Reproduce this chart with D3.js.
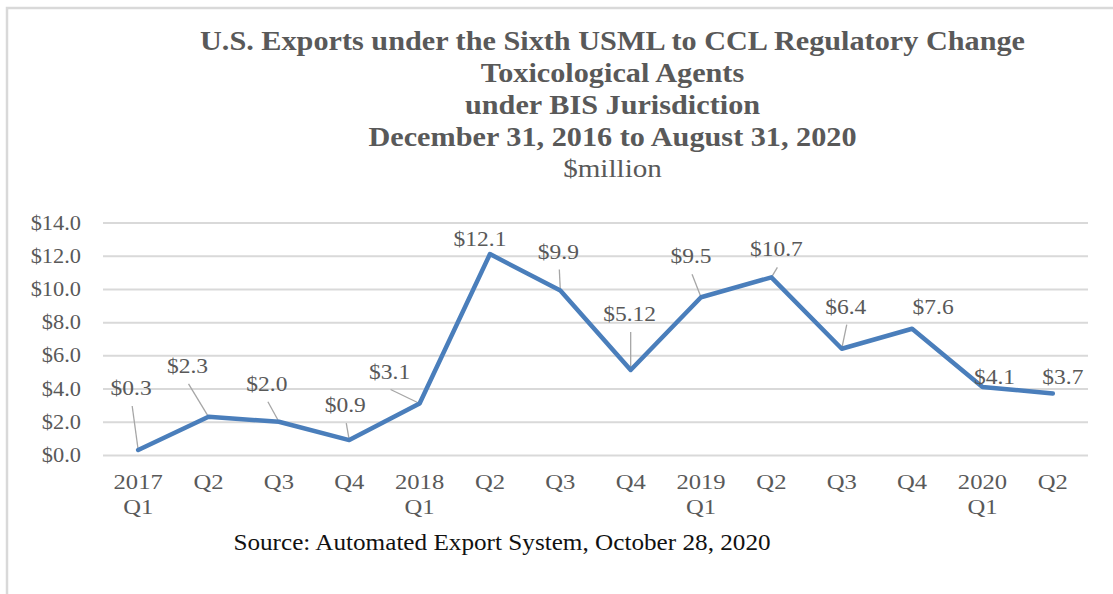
<!DOCTYPE html>
<html>
<head>
<meta charset="utf-8">
<script src="https://cdn.jsdelivr.net/npm/d3@7"></script>
<style>
  body { margin: 0; background: #fff; }
  svg text { font-family: "Liberation Serif", "Times New Roman", serif; fill: #595959; }
</style>
</head>
<body>
<svg id="chart" width="1113" height="594"></svg>
<script>
// quarters (two-line tick labels) and $million values
var quarterTop = ['2017', 'Q2', 'Q3', 'Q4', '2018', 'Q2', 'Q3', 'Q4', '2019', 'Q2', 'Q3', 'Q4', '2020', 'Q2'];
var quarterBottom = ['Q1', '', '', '', 'Q1', '', '', '', 'Q1', '', '', '', 'Q1', ''];
var exportValues = [0.3, 2.3, 2.0, 0.9, 3.1, 12.1, 9.9, 5.12, 9.5, 10.7, 6.4, 7.6, 4.1, 3.7];
var valueLabels = ['$0.3', '$2.3', '$2.0', '$0.9', '$3.1', '$12.1', '$9.9', '$5.12', '$9.5', '$10.7', '$6.4', '$7.6', '$4.1', '$3.7'];
var yTicks = [0, 2, 4, 6, 8, 10, 12, 14];

var titleLines = [
  'U.S. Exports under the Sixth USML to CCL Regulatory Change',
  'Toxicological Agents',
  'under BIS Jurisdiction',
  'December 31, 2016 to August 31, 2020'
];
var unitLine = '$million';
var sourceLine = 'Source: Automated Export System, October 28, 2020';

// where each callout label sits relative to its point (Excel moved them by hand)
var labelShift = [[-7, -55], [-21, -44], [-12, -31], [-4, -28], [-30, -25], [-10, -8], [-2, -32],
  [-1, -49], [-10, -34], [5, -21], [4, -35], [21, -15], [12, -3], [10, -10]];

var svg = d3.select('#chart');
var sx = 1.12; // text in the source picture is a bit wider than it is tall

var m = { left: 103, right: 1088, top: 222.5, bottom: 455 };

var x = d3.scaleBand()
  .domain(d3.range(exportValues.length))
  .range([m.left, m.right]);
var y = d3.scaleLinear()
  .domain([0, 14])
  .range([m.bottom, m.top]);

var put = function (sel, px, py) {
  return sel.attr('transform', 'translate(' + px + ',' + py + ') scale(' + sx + ',1)');
};

// frame
svg.append('path')
  .attr('d', 'M7,594 L7,8 L1113,8')
  .attr('fill', 'none')
  .attr('stroke', '#d9d9d9')
  .attr('stroke-width', 2.5);

// titles
titleLines.forEach(function (t, i) {
  put(svg.append('text'), 612.5, 50 + i * 32)
    .attr('text-anchor', 'middle')
    .attr('font-size', 27)
    .attr('font-weight', 'bold')
    .text(t);
});
put(svg.append('text'), 612.5, 177)
  .attr('text-anchor', 'middle')
  .attr('font-size', 26)
  .text(unitLine);

// grid + y axis
var yAxis = d3.axisLeft(y)
  .tickValues(yTicks)
  .tickSize(-(m.right - m.left))
  .tickPadding(22)
  .tickFormat(function (d) { return '$' + d3.format('.1f')(d); });

var gy = svg.append('g')
  .attr('transform', 'translate(' + m.left + ',0)')
  .call(yAxis);
gy.select('.domain').remove();
gy.selectAll('line').attr('stroke', '#d9d9d9').attr('stroke-width', 2);
gy.selectAll('text')
  .attr('font-size', 20)
  .attr('dy', '0.33em')
  .attr('transform', 'scale(' + sx + ',1)')
  .attr('x', -22 / sx);

// x axis labels
var gx = svg.append('g');
quarterTop.forEach(function (q, i) {
  var cx = x(i) + x.bandwidth() / 2;
  put(gx.append('text'), cx, 489).attr('text-anchor', 'middle').attr('font-size', 22).text(q);
  if (quarterBottom[i]) {
    put(gx.append('text'), cx, 514).attr('text-anchor', 'middle').attr('font-size', 22).text(quarterBottom[i]);
  }
});

var px = function (i) { return x(i) + x.bandwidth() / 2; };

// leader lines for labels dragged away from the point
var leaders = svg.append('g');
exportValues.forEach(function (v, i) {
  var s = labelShift[i];
  if (s[1] > -20) return;
  leaders.append('line')
    .attr('x1', px(i) + s[0] + 1)
    .attr('y1', y(v) + s[1] + 11)
    .attr('x2', px(i))
    .attr('y2', y(v))
    .attr('stroke', '#a6a6a6')
    .attr('stroke-width', 1.3);
});

// the line
var line = d3.line()
  .x(function (d, i) { return px(i); })
  .y(function (d) { return y(d); });

svg.append('path')
  .datum(exportValues)
  .attr('d', line)
  .attr('fill', 'none')
  .attr('stroke', '#4a7ebb')
  .attr('stroke-width', 4.5)
  .attr('stroke-linejoin', 'round')
  .attr('stroke-linecap', 'round');

// value labels
var gl = svg.append('g');
exportValues.forEach(function (v, i) {
  var s = labelShift[i];
  put(gl.append('text'), px(i) + s[0], y(v) + s[1])
    .attr('text-anchor', 'middle')
    .attr('font-size', 21)
    .text(valueLabels[i]);
});

// source note
put(svg.append('text'), 502, 550)
  .attr('text-anchor', 'middle')
  .attr('font-size', 22.5)
  .style('fill', '#111')
  .text(sourceLine);
</script>
</body>
</html>
